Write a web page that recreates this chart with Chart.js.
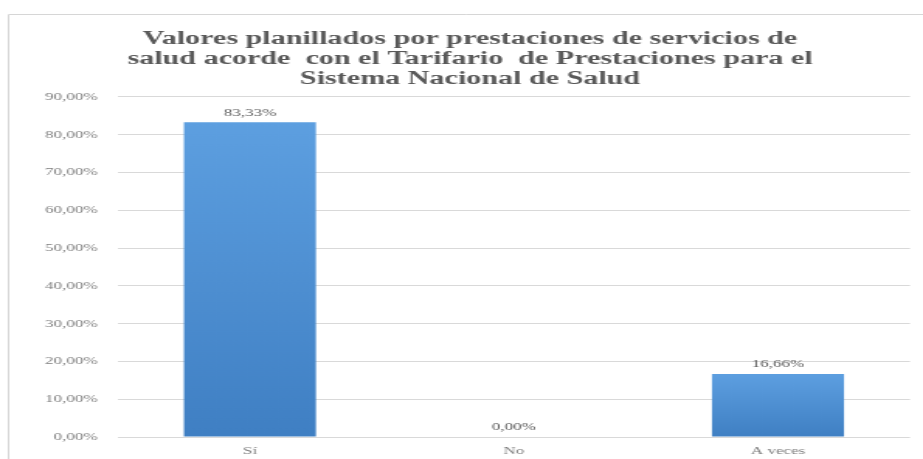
<!DOCTYPE html>
<html>
<head>
<meta charset="utf-8">
<script src="https://cdn.jsdelivr.net/npm/chart.js@4.4.1/dist/chart.umd.min.js"></script>
<style>
    html, body { margin: 0; padding: 0; background: #fff; overflow: hidden; }
    #wrap {
        position: absolute; left: 0; top: 0;
        width: 595px; height: 459px;
        transform: scaleX(1.5513); transform-origin: 0 0;
    }
</style>
</head>
<body>
<div id="wrap"><canvas id="chart"></canvas></div>
<script>
const titleLines = [
    'Valores planillados por prestaciones de servicios de',
    'salud acorde  con el Tarifario  de Prestaciones para el',
    'Sistema Nacional de Salud'
];
const categories = ['Sí', 'No', 'A veces'];
const percentValues = [83.33, 0, 16.66];
const yTicks = [0, 10, 20, 30, 40, 50, 60, 70, 80, 90];

const serif = "'Liberation Serif'";

function pct(v) {
    return v.toFixed(2).replace('.', ',') + '%';
}

// light frame around the chart
const framePlugin = {
    id: 'frame',
    beforeDraw(chart) {
        const ctx = chart.ctx;
        ctx.save();
        ctx.strokeStyle = '#d6d6d6';
        ctx.lineWidth = 1;
        ctx.beginPath();
        ctx.moveTo(5.5, chart.height);
        ctx.lineTo(5.5, 14.5);
        ctx.lineTo(chart.width, 14.5);
        ctx.stroke();
        ctx.restore();
    }
};

// value text above each bar
const valueLabels = {
    id: 'valueLabels',
    afterDatasetsDraw(chart) {
        const ctx = chart.ctx;
        const meta = chart.getDatasetMeta(0);
        ctx.save();
        ctx.font = '11px ' + serif;
        ctx.fillStyle = '#595959';
        ctx.textAlign = 'center';
        ctx.textBaseline = 'bottom';
        meta.data.forEach((bar, i) => {
            ctx.fillText(pct(percentValues[i]), bar.x, bar.y - 4);
        });
        ctx.restore();
    }
};

function barFill(context) {
    const chart = context.chart;
    const y = chart.scales.y;
    if (!y || context.parsed === undefined) return '#4f8fd3';
    const top = y.getPixelForValue(context.parsed.y);
    const bottom = y.getPixelForValue(0);
    if (!isFinite(top) || Math.abs(bottom - top) < 1) return '#4f8fd3';
    const g = chart.ctx.createLinearGradient(0, top, 0, bottom);
    g.addColorStop(0, '#5d9fe0');
    g.addColorStop(1, '#3f7fc3');
    return g;
}

new Chart(document.getElementById('chart'), {
    type: 'bar',
    data: {
        labels: categories,
        datasets: [{
            data: percentValues,
            backgroundColor: barFill,
            borderWidth: 0,
            barPercentage: 0.5,
            categoryPercentage: 1
        }]
    },
    options: {
        responsive: true,
        maintainAspectRatio: false,
        animation: false,
        layout: { padding: { top: 29, left: 19.4, right: 8.4, bottom: 0 } },
        plugins: {
            legend: { display: false },
            tooltip: { enabled: false },
            title: {
                display: true,
                text: titleLines,
                color: '#595959',
                font: { family: serif, size: 19.4, weight: 'bold', lineHeight: 1.03 },
                padding: { top: 0, bottom: 8 }
            }
        },
        scales: {
            x: {
                afterFit(scale) { scale.height = 22; },
                grid: { display: false, drawTicks: false },
                border: { display: false },
                ticks: { color: '#7f7f7f', font: { family: serif, size: 11 }, padding: 8 }
            },
            y: {
                min: 0,
                max: 90,
                afterFit(scale) { scale.width = 56.6; },
                afterBuildTicks(scale) { scale.ticks = yTicks.map(v => ({ value: v })); },
                grid: { color: '#d9d9d9', lineWidth: 1, drawTicks: false },
                border: { display: false },
                ticks: {
                    color: '#7f7f7f',
                    font: { family: serif, size: 11 },
                    padding: 13,
                    callback: v => pct(v)
                }
            }
        }
    },
    plugins: [framePlugin, valueLabels]
});
</script>
</body>
</html>
